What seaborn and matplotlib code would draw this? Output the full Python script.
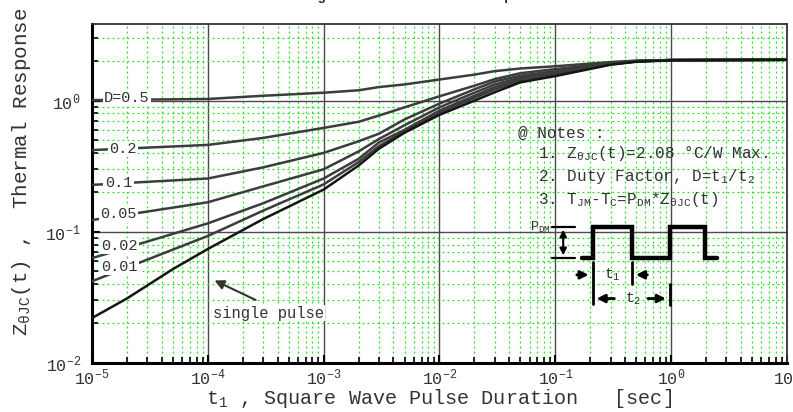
import matplotlib
matplotlib.use('Agg')
import matplotlib.pyplot as plt
import matplotlib.ticker as mticker
import numpy as np
import pandas as pd
import seaborn as sns

# pulse duration t1 [sec] and Z_thetaJC(t) [degC/W]
t_duty = [1e-5, 1e-4, 3e-4, 1e-3, 2e-3, 3e-3, 5e-3, 1e-2, 2e-2, 3e-2, 5e-2, 1e-1, 3e-1, 5e-1, 1, 10]
z_d05 = [1.01, 1.03, 1.09, 1.15, 1.20, 1.27, 1.33, 1.45, 1.58, 1.68, 1.76, 1.83, 1.97, 2.02, 2.04, 2.05]
z_d02 = [0.42, 0.46, 0.52, 0.62, 0.69, 0.77, 0.89, 1.08, 1.30, 1.46, 1.62, 1.74, 1.94, 2.01, 2.04, 2.05]
z_d01 = [0.228, 0.255, 0.31, 0.40, 0.49, 0.56, 0.72, 0.95, 1.22, 1.40, 1.55, 1.68, 1.92, 2.00, 2.04, 2.05]
z_d005 = [0.123, 0.168, 0.222, 0.30, 0.41, 0.51, 0.65, 0.89, 1.15, 1.33, 1.50, 1.64, 1.91, 2.00, 2.04, 2.05]
z_d002 = [0.063, 0.116, 0.165, 0.255, 0.36, 0.48, 0.60, 0.84, 1.09, 1.27, 1.46, 1.60, 1.90, 1.99, 2.04, 2.05]
z_d001 = [0.042, 0.093, 0.145, 0.23, 0.34, 0.45, 0.585, 0.81, 1.05, 1.22, 1.42, 1.57, 1.89, 1.99, 2.04, 2.05]

t_single = [1e-5, 2e-5, 5e-5, 1e-4, 3e-4, 1e-3, 2e-3, 3e-3, 5e-3, 1e-2, 2e-2, 3e-2, 5e-2,
            1e-1, 3e-1, 5e-1, 1, 10]
z_single = [0.022, 0.031, 0.052, 0.074, 0.125, 0.21, 0.32, 0.43, 0.57, 0.78, 1.00, 1.16, 1.38,
            1.54, 1.88, 1.98, 2.03, 2.05]

duty_names = ['D=0.5', '0.2', '0.1', '0.05', '0.02', '0.01']
duty_values = [z_d05, z_d02, z_d01, z_d005, z_d002, z_d001]
duty_label_x = [1.27e-5, 1.40e-5, 1.29e-5, 1.17e-5, 1.2e-5, 1.2e-5]
duty_label_y = [1.05, 0.428, 0.235, 0.136, 0.078, 0.054]

# square wave sketch in the notes box
pulse_t = [0.169, 0.210, 0.210, 0.458, 0.458, 0.970, 0.970, 1.97, 1.97, 2.48]
pulse_z = [0.063, 0.063, 0.109, 0.109, 0.063, 0.063, 0.109, 0.109, 0.063, 0.063]
pdm_high, pdm_low = 0.109, 0.063

notes = [
    '@ Notes :',
    r'1. $\mathdefault{Z_{θJC}}$(t)=2.08 °C/W Max.',
    r'2. Duty Factor, D=$\mathdefault{t_1}$/$\mathdefault{t_2}$',
    r'3. $\mathdefault{T_{JM}}$-$\mathdefault{T_C}$=$\mathdefault{P_{DM}}$*$\mathdefault{Z_{θJC}}$(t)',
]

sns.set_style('ticks')
plt.rcParams['font.family'] = ['Liberation Mono', 'DejaVu Sans Mono', 'DejaVu Sans']
plt.rcParams['axes.unicode_minus'] = False

frames = []
for name, vals in zip(duty_names, duty_values):
    frames.append(pd.DataFrame({'t': t_duty, 'z': vals, 'curve': name}))
frames.append(pd.DataFrame({'t': t_single, 'z': z_single, 'curve': 'single pulse'}))
df = pd.concat(frames, ignore_index=True)

palette = {n: '#3c3c3c' for n in duty_names}
palette['single pulse'] = '#151515'

fig, ax = plt.subplots(figsize=(7.93, 4.12), dpi=100)
fig.subplots_adjust(left=0.116, right=0.9924, bottom=0.119, top=0.942)
ax.set_xscale('log')
ax.set_yscale('log')

sns.lineplot(data=df, x='t', y='z', hue='curve', palette=palette, legend=False,
             estimator=None, linewidth=1.8, ax=ax, zorder=3)

ax.set_xlim(1e-5, 10)
ax.set_ylim(0.01, 3.85)
for axis in (ax.xaxis, ax.yaxis):
    axis.set_major_locator(mticker.LogLocator(base=10, numticks=12))
    axis.set_minor_locator(mticker.LogLocator(base=10, subs=np.arange(2, 10), numticks=40))
    axis.set_minor_formatter(mticker.NullFormatter())

ax.set_axisbelow(True)
ax.grid(which='minor', color='#22e022', lw=0.9, ls=(0, (1.5, 2.5)))
ax.grid(which='major', color='#4a4a4a', lw=1.0, ls='-')

ax.tick_params(which='both', direction='in', top=False, right=False, colors='black',
               labelcolor='#333333', labelsize=12)
ax.tick_params(which='major', length=6, width=1.5)
ax.tick_params(which='minor', length=4, width=1.2)
ax.tick_params(axis='x', pad=3.5)
ax.tick_params(axis='y', pad=8)

for side in ('left', 'bottom'):
    ax.spines[side].set_linewidth(2.2)
    ax.spines[side].set_color('black')
for side in ('top', 'right'):
    ax.spines[side].set_linewidth(1.3)
    ax.spines[side].set_color('#333333')

ax.set_xlabel(r'$\mathdefault{t_1}$ , Square Wave Pulse Duration   [sec]',
              fontsize=14.5, color='#333333')
ax.set_ylabel(r'$\mathdefault{Z_{θJC}}$(t) ,  Thermal Response', fontsize=15, color='#333333')
ax.xaxis.set_label_coords(0.499, -0.104)
ax.xaxis.label.set_va('center')
ax.yaxis.set_label_coords(-0.102, 0.563)
ax.yaxis.label.set_va('center')

# curve labels sit on white boxes over the lines
for name, lx, ly in zip(duty_names, duty_label_x, duty_label_y):
    ax.text(lx, ly, name, fontsize=11, color='#333333', ha='left', va='center', zorder=4,
            bbox=dict(facecolor='white', edgecolor='none', pad=1.0))

ax.annotate('', xy=(1.087e-4, 0.0435), xytext=(2.72e-4, 0.0296),
            arrowprops=dict(arrowstyle='-|>', color='#333333', lw=1.5, mutation_scale=14), zorder=4)
ax.text(1.11e-4, 0.024, 'single pulse', fontsize=11.2, color='#333333', ha='left', va='center',
        zorder=4, bbox=dict(facecolor='white', edgecolor='none', pad=0.5))

note_y = [0.678, 0.619, 0.549, 0.481]
note_x = [0.613, 0.642, 0.642, 0.642]
for txt, nx, ny in zip(notes, note_x, note_y):
    ax.text(nx, ny, txt, transform=ax.transAxes, fontsize=11.5, color='#333333',
            ha='left', va='center', zorder=4)

# square wave and P_DM / t1 / t2 markers
ax.plot(pulse_t, pulse_z, color='black', lw=3.2, solid_joinstyle='miter', zorder=4)
ax.plot([0.0933, 0.148], [pdm_high, pdm_high], color='black', lw=1.6, zorder=4)
ax.plot([0.0933, 0.148], [pdm_low, pdm_low], color='black', lw=1.6, zorder=4)
ax.annotate('', xy=(0.117, pdm_low), xytext=(0.117, pdm_high),
            arrowprops=dict(arrowstyle='<|-|>', color='black', lw=1.5, mutation_scale=10), zorder=4)
ax.text(0.092, 0.108, r'$\mathdefault{P_{DM}}$', fontsize=9.5, color='#333333',
        ha='right', va='center', zorder=4)

ax.plot([0.210, 0.210], [0.0281, 0.0587], color='black', lw=2.0, zorder=4)
ax.plot([0.458, 0.458], [0.0399, 0.0587], color='black', lw=2.0, zorder=4)
ax.plot([0.970, 0.970], [0.0275, 0.0399], color='black', lw=2.0, zorder=4)
arrow_kw = dict(arrowstyle='-|>', color='black', lw=2.0, mutation_scale=12)
ax.annotate('', xy=(0.205, 0.047), xytext=(0.145, 0.047), arrowprops=arrow_kw, zorder=4)
ax.annotate('', xy=(0.470, 0.047), xytext=(0.659, 0.047), arrowprops=arrow_kw, zorder=4)
ax.annotate('', xy=(0.215, 0.031), xytext=(0.342, 0.031), arrowprops=arrow_kw, zorder=4)
ax.annotate('', xy=(0.950, 0.031), xytext=(0.596, 0.031), arrowprops=arrow_kw, zorder=4)
ax.text(0.309, 0.047, r'$\mathdefault{t_1}$', fontsize=10.5, color='#333333', ha='center', va='center', zorder=4)
ax.text(0.470, 0.031, r'$\mathdefault{t_2}$', fontsize=10.5, color='#333333', ha='center', va='center', zorder=4)

# title sits mostly above the canvas, only descenders show
fig.text(0.386, 1.0, 'Figure 11. Transient Thermal Impedance', fontsize=9.5, fontweight='bold',
         family='Liberation Sans', ha='left', va='baseline')

fig.savefig('out.png', dpi=100)
